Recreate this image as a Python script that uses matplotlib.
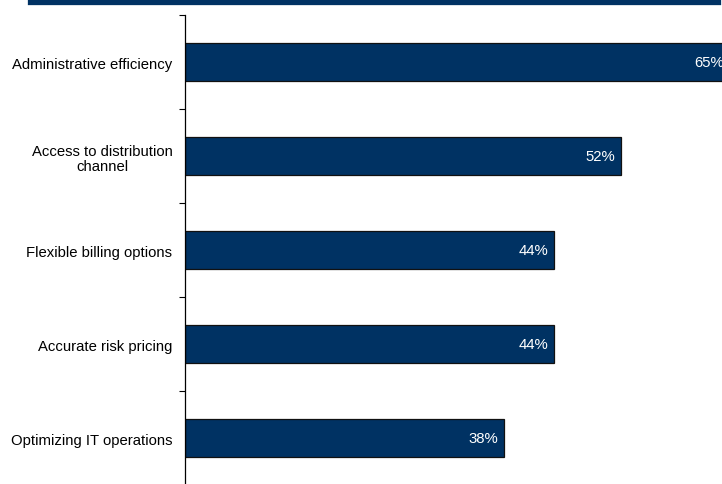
import matplotlib
matplotlib.use("Agg")
import matplotlib.pyplot as plt
from matplotlib.lines import Line2D
import numpy as np

plt.rcParams['font.family'] = ['Liberation Sans', 'DejaVu Sans']

categories = ["Administrative efficiency", "Access to distribution\nchannel",
              "Flexible billing options", "Accurate risk pricing",
              "Optimizing IT operations"]
values = [65, 52, 44, 44, 38]
labels = ["65%", "52%", "44%", "44%", "38%"]

navy = '#003263'
W, H = 722, 485
fig = plt.figure(figsize=(W/100, H/100), dpi=100)
ax = fig.add_axes([185/W, (H-486)/H, (730-185)/W, (486-16)/H])

y = np.arange(len(categories))
ax.barh(y, values, height=0.40, color=navy, edgecolor='#111111', linewidth=0.9)
ax.set_ylim(len(categories)-0.5, -0.5)
ax.set_xlim(0, 65)

for yi, v, lab in zip(y, values, labels):
    ax.annotate(lab, xy=(v, yi), xytext=(-4, 0), textcoords='offset points',
                ha='right', va='center', color='white', fontsize=10.7)

ax.set_yticks(y)
ax.set_yticklabels(categories, fontsize=10.7, linespacing=1.1)
for t in ax.get_yticklabels():
    t.set_multialignment('center')
ax.set_yticks(np.arange(-0.5, len(categories), 1.0), minor=True)
ax.tick_params(axis='y', which='major', length=0, pad=9)
ax.tick_params(axis='y', which='minor', length=4, width=0.8, direction='out')
ax.set_xticks([])
for s in ['top', 'right', 'bottom']:
    ax.spines[s].set_visible(False)
ax.spines['left'].set_linewidth(0.9)

fig.add_artist(Line2D([30/W, 718/W], [1-2.5/H, 1-2.5/H], color=navy,
                      linewidth=3.8, transform=fig.transFigure))

fig.savefig('out.png', dpi=100)
